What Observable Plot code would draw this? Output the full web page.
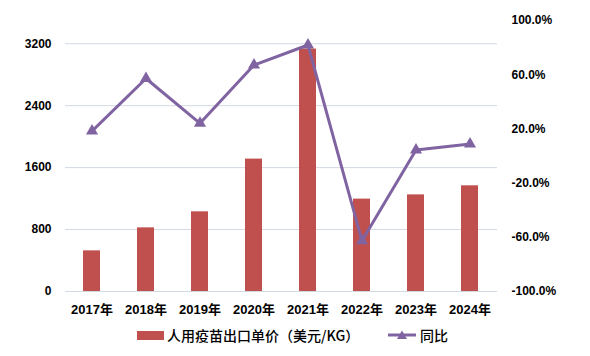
<!DOCTYPE html>
<html>
<head>
<meta charset="utf-8">
<script src="https://cdn.jsdelivr.net/npm/d3@7"></script>
<script src="https://cdn.jsdelivr.net/npm/@observablehq/plot@0.6"></script>
<style>
  body { margin: 0; background: #fff; }
  #wrap { position: relative; width: 590px; height: 356px; font-family: "Liberation Sans", "Noto Sans CJK SC", sans-serif; }
  #wrap svg { position: absolute; left: 0; top: 0; }
  #legend { position: absolute; top: 325px; left: 0; width: 590px; height: 20px; font-family: "Noto Sans CJK SC", sans-serif; font-size: 14px; font-weight: 500; color: #000; }
  .item { position: absolute; top: 0; display: flex; align-items: center; height: 20px; white-space: nowrap; }
  .sw { display: inline-block; width: 27px; height: 9px; background: #C0504D; margin-right: 3px; }
</style>
</head>
<body>
<div id="wrap"></div>
<script>
const years = ["2017年","2018年","2019年","2020年","2021年","2022年","2023年","2024年"];
const price = [525, 822, 1029, 1710, 3131, 1193, 1248, 1365];
const yoy = [18.4, 57.2, 24.1, 67.1, 81.9, -62.6, 4.4, 8.8];
const leftTicks = [0, 800, 1600, 2400, 3200];
const rightTicks = [-100, -60, -20, 20, 60, 100];
const barName = "人用疫苗出口单价（美元/KG）";
const lineName = "同比";

const barColor = "#C0504D";
const lineColor = "#8064A2";

const rows = years.map((y, i) => ({year: y, price: price[i], yoy: yoy[i]}));

const common = {
  width: 590, height: 322,
  marginTop: 20, marginBottom: 31, marginLeft: 65, marginRight: 93,
  style: {fontFamily: "'Liberation Sans', 'Noto Sans CJK SC', sans-serif", fontWeight: "bold", fontSize: "12px", color: "#000", background: "transparent"}
};
const xScale = {type: "band", domain: years, paddingInner: 0.685, paddingOuter: 0.3425};

const p1 = Plot.plot({
  ...common,
  x: {...xScale},
  y: {domain: [0, 3500]},
  marks: [
    Plot.gridY(leftTicks, {stroke: "#d3d9e3", strokeOpacity: 1, strokeWidth: 1}),
    Plot.barY(rows, {x: "year", y: "price", fill: barColor}),
    Plot.axisY(leftTicks, {anchor: "left", tickSize: 0, tickPadding: 14, label: null, tickFormat: d => String(d), fontSize: 12, fontWeight: "bold"}),
    Plot.axisX({anchor: "bottom", tickSize: 0, tickPadding: 13, label: null, fontSize: 13, fontWeight: "bold"})
  ]
});

const p2 = Plot.plot({
  ...common,
  x: {...xScale, axis: null},
  y: {domain: [-100, 100]},
  marks: [
    Plot.line(rows, {x: "year", y: "yoy", stroke: lineColor, strokeWidth: 3}),
    Plot.dot(rows, {x: "year", y: "yoy", symbol: "triangle", r: 4.5, fill: lineColor, stroke: "none"}),
    Plot.axisY(rightTicks, {anchor: "right", tickSize: 0, tickPadding: 14, label: null, tickFormat: d => d.toFixed(1) + "%", fontSize: 12, fontWeight: "bold"})
  ]
});

const wrap = document.getElementById("wrap");
wrap.appendChild(p1);
wrap.appendChild(p2);

const legend = document.createElement("div");
legend.id = "legend";
legend.innerHTML =
  `<div class="item" style="left:137px"><span class="sw"></span><span>${barName}</span></div>` +
  `<div class="item" style="left:388px"><svg width="28" height="12" style="position:static;margin-right:4px"><line x1="0" y1="6" x2="28" y2="6" stroke="${lineColor}" stroke-width="3"/><path d="M14,1.5 L19,10 L9,10 Z" fill="${lineColor}"/></svg><span>${lineName}</span></div>`;
wrap.appendChild(legend);
</script>
</body>
</html>
